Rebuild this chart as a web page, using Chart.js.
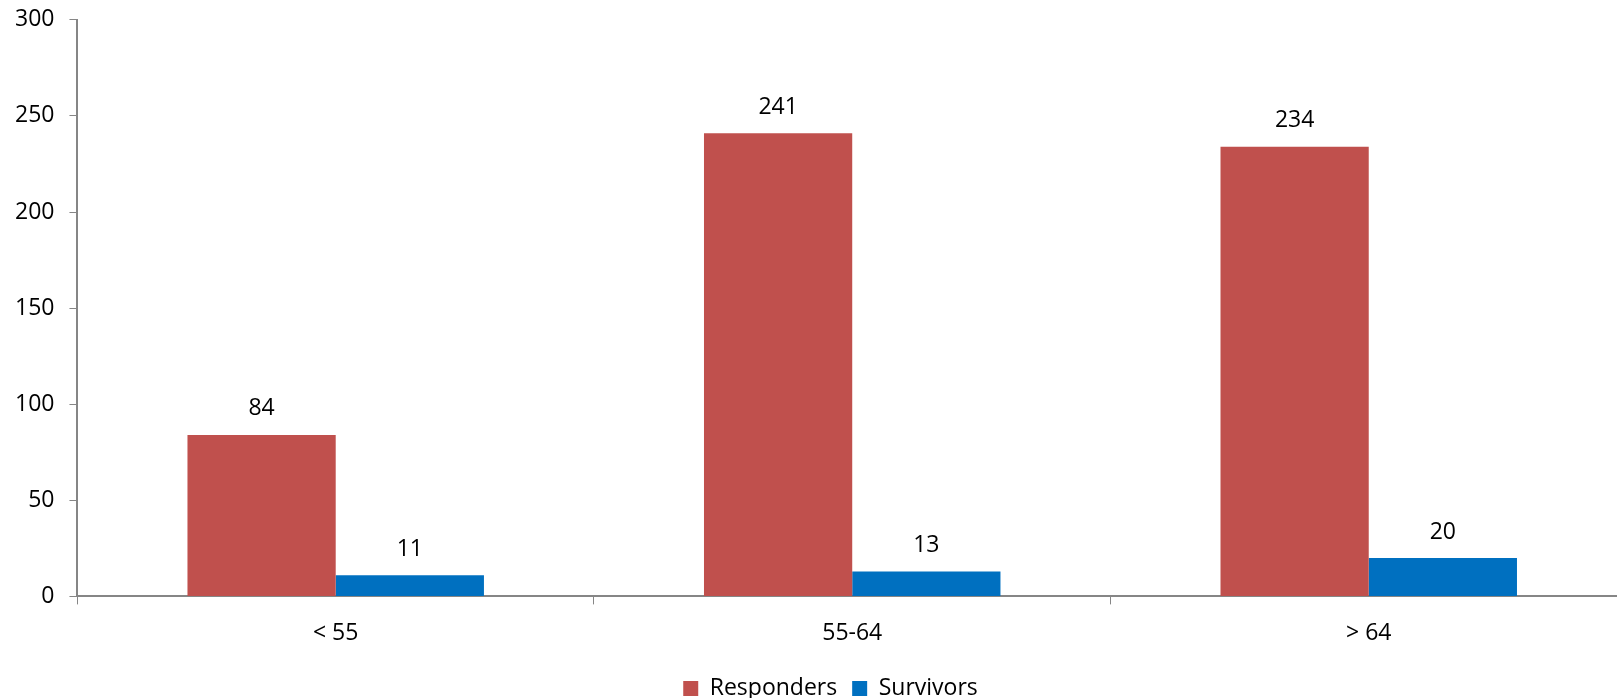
<!DOCTYPE html>
<html>
<head>
<meta charset="utf-8">
<script src="https://cdn.jsdelivr.net/npm/chart.js@4"></script>
<style>
  html, body { margin: 0; padding: 0; background: #fff; overflow: hidden; }
  #wrap { position: relative; width: 1627px; height: 719px; margin-top: -9px; }
</style>
</head>
<body>
<div id="wrap"><canvas id="my-chart"></canvas></div>
<script>
// age groups and counts
var ageGroups = ['< 55', '55-64', '> 64'];
var responders = [84, 241, 234];
var survivors = [11, 13, 20];
var yTicks = [0, 50, 100, 150, 200, 250, 300];

var axisGrey = '#868686';
var fontFam = '"Open Sans", "Noto Sans", sans-serif';

// draws the number above each bar
var barLabels = {
  id: 'barLabels',
  afterDatasetsDraw: function(chart) {
    var ctx = chart.ctx;
    ctx.save();
    ctx.font = '23px ' + fontFam;
    ctx.fillStyle = '#000';
    ctx.textAlign = 'center';
    ctx.textBaseline = 'middle';
    chart.data.datasets.forEach(function(ds, i) {
      var meta = chart.getDatasetMeta(i);
      meta.data.forEach(function(bar, j) {
        ctx.fillText(ds.data[j], bar.x, bar.y - 26);
      });
    });
    ctx.restore();
  }
};

// nudge the legend a bit to the right, like the original
var legendShift = {
  id: 'legendShift',
  afterLayout: function(chart) {
    if (chart.legend) {
      chart.legend.left += 17;
      chart.legend.right += 17;
    }
  }
};

var ctx = document.getElementById('my-chart');
var resultsChart = new Chart(ctx, {
  type: 'bar',
  data: {
    labels: ageGroups,
    datasets: [
      {
        label: 'Responders',
        data: responders,
        backgroundColor: '#C0504D',
        borderWidth: 0
      },
      {
        label: 'Survivors',
        data: survivors,
        backgroundColor: '#0070C0',
        borderWidth: 0
      }
    ]
  },
  options: {
    responsive: true,
    maintainAspectRatio: false,
    animation: false,
    categoryPercentage: 0.574,
    barPercentage: 1,
    layout: { padding: { left: 0, top: 0, right: 0, bottom: 0 } },
    plugins: {
      tooltip: { enabled: false },
      legend: {
        position: 'bottom',
        labels: {
          boxWidth: 15,
          boxHeight: 15,
          padding: 15,
          color: '#000',
          font: { family: fontFam, size: 23 }
        }
      }
    },
    scales: {
      x: {
        grid: {
          drawOnChartArea: false,
          color: axisGrey,
          tickLength: 8,
          offset: true
        },
        border: { color: axisGrey, width: 2 },
        ticks: {
          color: '#000',
          padding: 15,
          font: { family: fontFam, size: 23 }
        }
      },
      y: {
        min: 0,
        max: 300,
        afterBuildTicks: function(axis) {
          axis.ticks = yTicks.map(function(v) { return { value: v }; });
        },
        grid: {
          drawOnChartArea: false,
          color: axisGrey,
          tickLength: 8
        },
        border: { color: axisGrey, width: 2 },
        ticks: {
          color: '#000',
          padding: 15,
          font: { family: fontFam, size: 23 }
        }
      }
    }
  },
  plugins: [barLabels, legendShift]
});
</script>
</body>
</html>
